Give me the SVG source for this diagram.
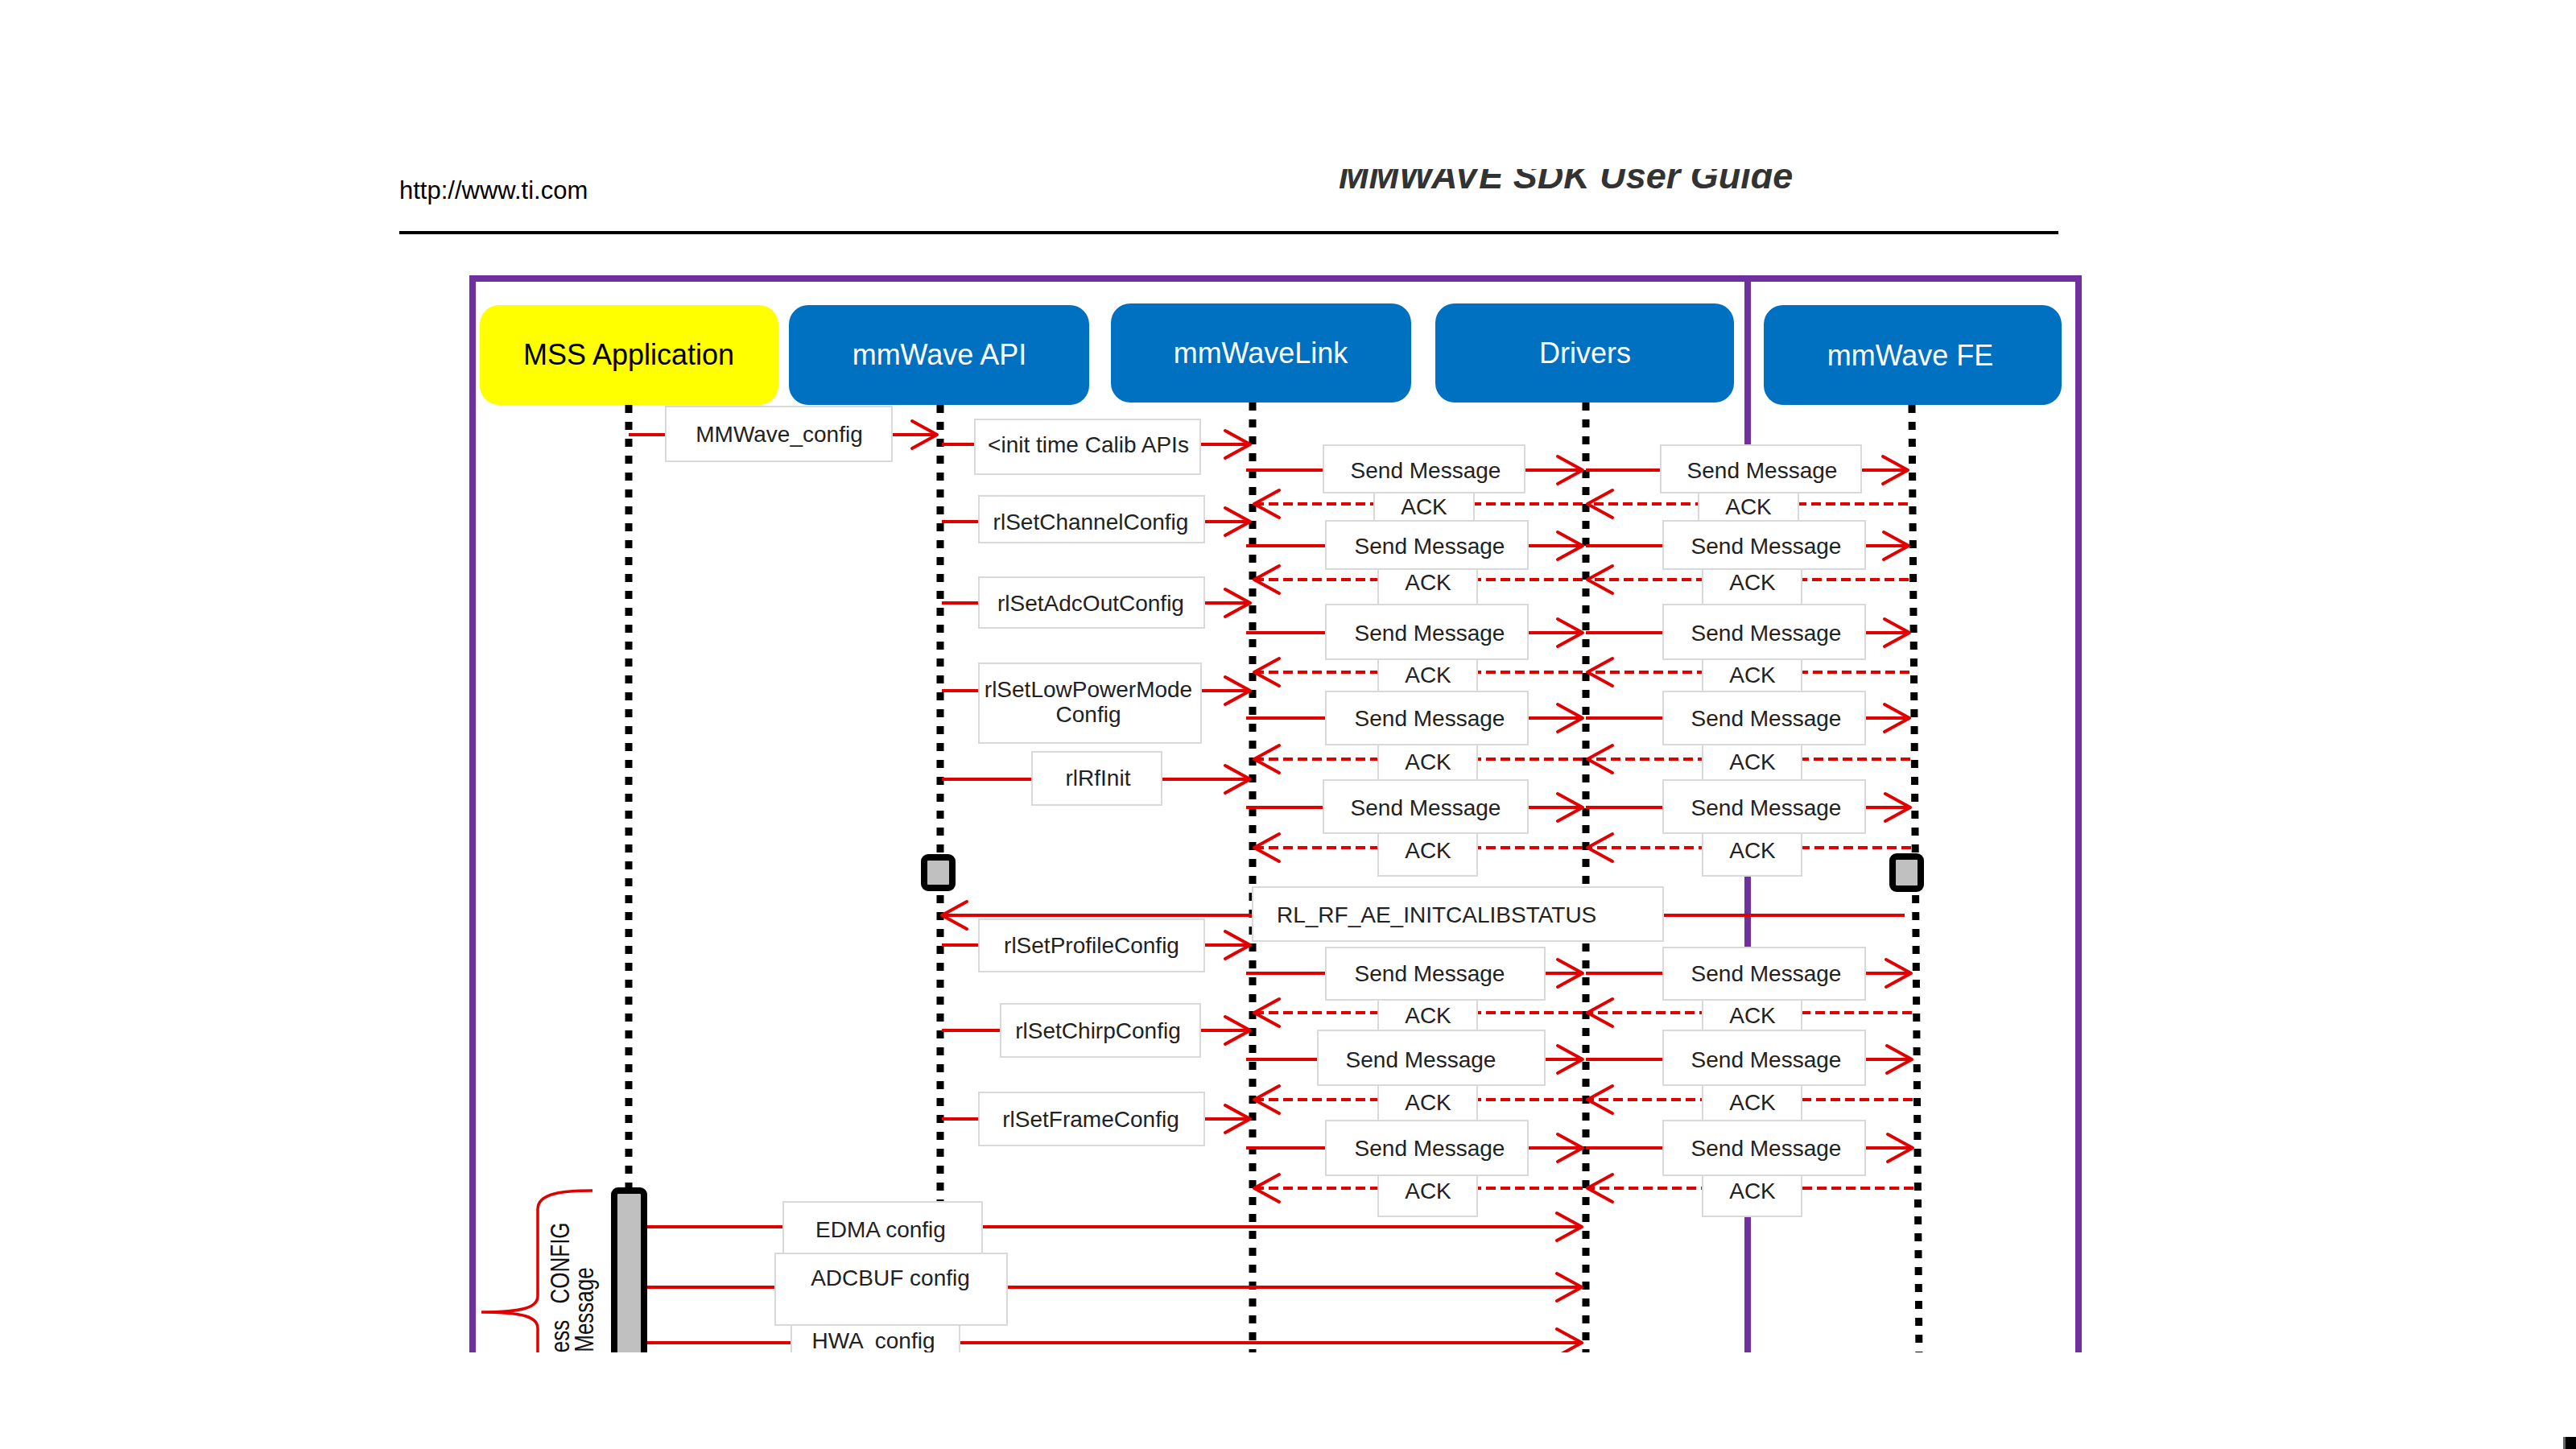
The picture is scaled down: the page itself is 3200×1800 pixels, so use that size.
<svg xmlns="http://www.w3.org/2000/svg" width="3200" height="1800" viewBox="0 0 3200 1800">
<style>
.t{font-family:"Liberation Sans",Arial,sans-serif;font-size:28px;fill:#222;text-anchor:middle}
.nt{font-family:"Liberation Sans",Arial,sans-serif;font-size:36px;text-anchor:middle}
.lbl{fill:#fff;stroke:#d9d9d9;stroke-width:2}
.msg{stroke:#e00000;stroke-width:4;fill:none;marker-end:url(#ah)}
.ack{stroke-dasharray:12 6}
.life{stroke:#000;stroke-width:9;stroke-dasharray:10 11;fill:none}
.act{fill:#c0c0c0;stroke:#000;stroke-width:8}
</style>
<defs>
<marker id="ah" markerUnits="userSpaceOnUse" markerWidth="44" markerHeight="44" viewBox="-38 -22 44 44" refX="0" refY="0" orient="auto" overflow="visible">
<path d="M-31,-17 L0,0 L-31,17" fill="none" stroke="#e00000" stroke-width="4" stroke-dasharray="none" stroke-linecap="round" stroke-linejoin="round"/>
</marker>
<clipPath id="page"><rect x="0" y="210" width="3200" height="1470"/></clipPath>
</defs>
<rect width="3200" height="1800" fill="#fff"/>
<g clip-path="url(#page)">
<g id="header">
<text x="496" y="247" style="font-family:'Liberation Sans',Arial,sans-serif;font-size:31px;fill:#000">http://www.ti.com</text>
<text x="1663" y="234" style="font-family:'Liberation Sans',Arial,sans-serif;font-size:45px;font-weight:bold;font-style:italic;fill:#333">MMWAVE SDK User Guide</text>
<rect x="496" y="287" width="2061" height="4" fill="#000"/>
</g>
<g id="frame" fill="none" stroke="#7030a0" stroke-width="8">
<path d="M587,1700 V346 H2582 V1700"/>
<path d="M2171,346 V1700"/>
</g>
<g id="lifelines">
<path class="life" d="M781,503 V1475"/>
<path class="life" d="M1168,503 V1495"/>
<path class="life" d="M1556,500 V1700"/>
<path class="life" d="M1970,500 V1700"/>
<path class="life" d="M2375,503 L2384,1690"/>
</g>
<g id="node-mss"><rect x="596" y="379" width="371" height="124" rx="24" fill="#ffff00"/><text class="nt" x="781" y="453" fill="#000">MSS Application</text></g>
<g id="node-api"><rect x="980" y="379" width="373" height="124" rx="24" fill="#0070c0"/><text class="nt" x="1167" y="453" fill="#fff">mmWave API</text></g>
<g id="node-link"><rect x="1380" y="377" width="373" height="123" rx="24" fill="#0070c0"/><text class="nt" x="1566" y="451" fill="#fff">mmWaveLink</text></g>
<g id="node-drivers"><rect x="1783" y="377" width="371" height="123" rx="24" fill="#0070c0"/><text class="nt" x="1969" y="451" fill="#fff">Drivers</text></g>
<g id="node-fe"><rect x="2191" y="379" width="370" height="124" rx="24" fill="#0070c0"/><text class="nt" x="2373" y="454" fill="#fff">mmWave FE</text></g>
<g id="connectors">
<path class="msg" d="M781,540 H1164"/>
<path class="msg" d="M1170,552 H1553"/>
<path class="msg" d="M1170,648 H1553"/>
<path class="msg" d="M1170,749 H1553"/>
<path class="msg" d="M1170,858 H1553"/>
<path class="msg" d="M1170,968 H1553"/>
<path class="msg" d="M2366,1137 H1170"/>
<path class="msg" d="M1170,1174 H1553"/>
<path class="msg" d="M1170,1280 H1553"/>
<path class="msg" d="M1170,1390 H1553"/>
<path class="msg" d="M1548,584 H1966"/><path class="msg" d="M1970,584 H2370"/>
<path class="msg ack" d="M2370,626 H1972"/><path class="msg ack" d="M1966,626 H1558"/>
<path class="msg" d="M1548,678 H1966"/><path class="msg" d="M1970,678 H2371"/>
<path class="msg ack" d="M2371,720 H1972"/><path class="msg ack" d="M1966,720 H1558"/>
<path class="msg" d="M1548,786 H1966"/><path class="msg" d="M1970,786 H2372"/>
<path class="msg ack" d="M2372,835 H1972"/><path class="msg ack" d="M1966,835 H1558"/>
<path class="msg" d="M1548,892 H1966"/><path class="msg" d="M1970,892 H2372"/>
<path class="msg ack" d="M2373,943 H1972"/><path class="msg ack" d="M1966,943 H1558"/>
<path class="msg" d="M1548,1003 H1966"/><path class="msg" d="M1970,1003 H2373"/>
<path class="msg ack" d="M2374,1053 H1972"/><path class="msg ack" d="M1966,1053 H1558"/>
<path class="msg" d="M1548,1209 H1966"/><path class="msg" d="M1970,1209 H2374"/>
<path class="msg ack" d="M2375,1258 H1972"/><path class="msg ack" d="M1966,1258 H1558"/>
<path class="msg" d="M1548,1316 H1966"/><path class="msg" d="M1970,1316 H2375"/>
<path class="msg ack" d="M2376,1366 H1972"/><path class="msg ack" d="M1966,1366 H1558"/>
<path class="msg" d="M1548,1426 H1966"/><path class="msg" d="M1970,1426 H2376"/>
<path class="msg ack" d="M2377,1476 H1972"/><path class="msg ack" d="M1966,1476 H1558"/>
<path class="msg" d="M804,1524 H1965"/>
<path class="msg" d="M804,1599 H1965"/>
<path class="msg" d="M804,1668 H1965"/>
<path d="M736,1479 C700,1479 668,1482 668,1502 V1610 C668,1624 650,1630 598,1630 C650,1630 668,1636 668,1650 V1700" fill="none" stroke="#e00000" stroke-width="3.5"/>
</g>
<g id="labels">
<rect class="lbl" x="827" y="505" width="281" height="68"/><text class="t" x="968" y="549">MMWave_config</text>
<rect class="lbl" x="1211" y="521" width="280" height="68"/><text class="t" x="1352" y="562">&lt;init time Calib APIs</text>
<rect class="lbl" x="1216" y="616" width="280" height="58"/><text class="t" x="1355" y="658">rlSetChannelConfig</text>
<rect class="lbl" x="1216" y="717" width="280" height="63"/><text class="t" x="1355" y="759">rlSetAdcOutConfig</text>
<rect class="lbl" x="1216" y="824" width="276" height="99"/><text class="t" x="1352" y="866">rlSetLowPowerMode</text><text class="t" x="1352" y="897">Config</text>
<rect class="lbl" x="1282" y="934" width="161" height="66"/><text class="t" x="1364" y="976">rlRfInit</text>
<rect class="lbl" x="1556" y="1102" width="510" height="67"/><text class="t" x="1586" y="1146" style="text-anchor:start">RL_RF_AE_INITCALIBSTATUS</text>
<rect class="lbl" x="1216" y="1142" width="280" height="65"/><text class="t" x="1356" y="1184">rlSetProfileConfig</text>
<rect class="lbl" x="1243" y="1247" width="248" height="66"/><text class="t" x="1364" y="1290">rlSetChirpConfig</text>
<rect class="lbl" x="1216" y="1357" width="280" height="66"/><text class="t" x="1355" y="1400">rlSetFrameConfig</text>

<rect class="lbl" x="1707" y="612" width="124" height="35"/><rect class="lbl" x="2110" y="612" width="124" height="35"/>
<rect class="lbl" x="1644" y="553" width="250" height="59"/><rect class="lbl" x="2063" y="553" width="249" height="59"/>
<rect class="lbl" x="1712" y="707" width="123" height="44"/><rect class="lbl" x="2115" y="707" width="123" height="44"/>
<rect class="lbl" x="1647" y="647" width="251" height="60"/><rect class="lbl" x="2066" y="647" width="251" height="60"/>
<rect class="lbl" x="1712" y="819" width="123" height="40"/><rect class="lbl" x="2115" y="819" width="123" height="40"/>
<rect class="lbl" x="1647" y="751" width="251" height="68"/><rect class="lbl" x="2066" y="751" width="251" height="68"/>
<rect class="lbl" x="1712" y="925" width="123" height="44"/><rect class="lbl" x="2115" y="925" width="123" height="44"/>
<rect class="lbl" x="1647" y="859" width="251" height="66"/><rect class="lbl" x="2066" y="859" width="251" height="66"/>
<rect class="lbl" x="1712" y="1035" width="123" height="53"/><rect class="lbl" x="2115" y="1035" width="123" height="53"/>
<rect class="lbl" x="1644" y="969" width="254" height="66"/><rect class="lbl" x="2066" y="969" width="251" height="66"/>
<rect class="lbl" x="1712" y="1242" width="123" height="38"/><rect class="lbl" x="2115" y="1242" width="123" height="38"/>
<rect class="lbl" x="1647" y="1177" width="272" height="65"/><rect class="lbl" x="2066" y="1177" width="251" height="65"/>
<rect class="lbl" x="1712" y="1348" width="123" height="44"/><rect class="lbl" x="2115" y="1348" width="123" height="44"/>
<rect class="lbl" x="1637" y="1280" width="282" height="68"/><rect class="lbl" x="2066" y="1280" width="251" height="68"/>
<rect class="lbl" x="1712" y="1460" width="123" height="51"/><rect class="lbl" x="2115" y="1460" width="123" height="51"/>
<rect class="lbl" x="1647" y="1392" width="251" height="68"/><rect class="lbl" x="2066" y="1392" width="251" height="68"/>

<text class="t" x="1771" y="594">Send Message</text><text class="t" x="2189" y="594">Send Message</text>
<text class="t" x="1769" y="639">ACK</text><text class="t" x="2172" y="639">ACK</text>
<text class="t" x="1776" y="688">Send Message</text><text class="t" x="2194" y="688">Send Message</text>
<text class="t" x="1774" y="733">ACK</text><text class="t" x="2177" y="733">ACK</text>
<text class="t" x="1776" y="796">Send Message</text><text class="t" x="2194" y="796">Send Message</text>
<text class="t" x="1774" y="848">ACK</text><text class="t" x="2177" y="848">ACK</text>
<text class="t" x="1776" y="902">Send Message</text><text class="t" x="2194" y="902">Send Message</text>
<text class="t" x="1774" y="956">ACK</text><text class="t" x="2177" y="956">ACK</text>
<text class="t" x="1771" y="1013">Send Message</text><text class="t" x="2194" y="1013">Send Message</text>
<text class="t" x="1774" y="1066">ACK</text><text class="t" x="2177" y="1066">ACK</text>
<text class="t" x="1776" y="1219">Send Message</text><text class="t" x="2194" y="1219">Send Message</text>
<text class="t" x="1774" y="1271">ACK</text><text class="t" x="2177" y="1271">ACK</text>
<text class="t" x="1765" y="1326">Send Message</text><text class="t" x="2194" y="1326">Send Message</text>
<text class="t" x="1774" y="1379">ACK</text><text class="t" x="2177" y="1379">ACK</text>
<text class="t" x="1776" y="1436">Send Message</text><text class="t" x="2194" y="1436">Send Message</text>
<text class="t" x="1774" y="1489">ACK</text><text class="t" x="2177" y="1489">ACK</text>

<rect class="lbl" x="973" y="1493" width="247" height="64"/><text class="t" x="1094" y="1537">EDMA config</text>
<rect class="lbl" x="963" y="1557" width="288" height="89"/><text class="t" x="1106" y="1597">ADCBUF config</text>
<rect class="lbl" x="983" y="1646" width="209" height="60"/><text class="t" x="1085" y="1675" style="white-space:pre">HWA  config</text>
<text class="t" transform="translate(707,1626) rotate(-90) scale(1,1.3)" x="0" y="0" style="font-size:26px;fill:#111">Process <tspan dx="13">CONFIG</tspan></text>
<text class="t" transform="translate(737,1627) rotate(-90) scale(1,1.3)" x="0" y="0" style="font-size:26px;fill:#111">Message</text>
</g>
<g id="activations">
<rect class="act" x="1148" y="1065" width="35" height="38" rx="5"/>
<rect class="act" x="2351" y="1064" width="35" height="40" rx="5"/>
<rect class="act" x="763" y="1479" width="37" height="260" rx="5"/>
</g>
</g>
<rect x="3184" y="1785" width="3" height="15" fill="#666"/>
<rect x="3187" y="1785" width="13" height="15" fill="#000"/>
</svg>
